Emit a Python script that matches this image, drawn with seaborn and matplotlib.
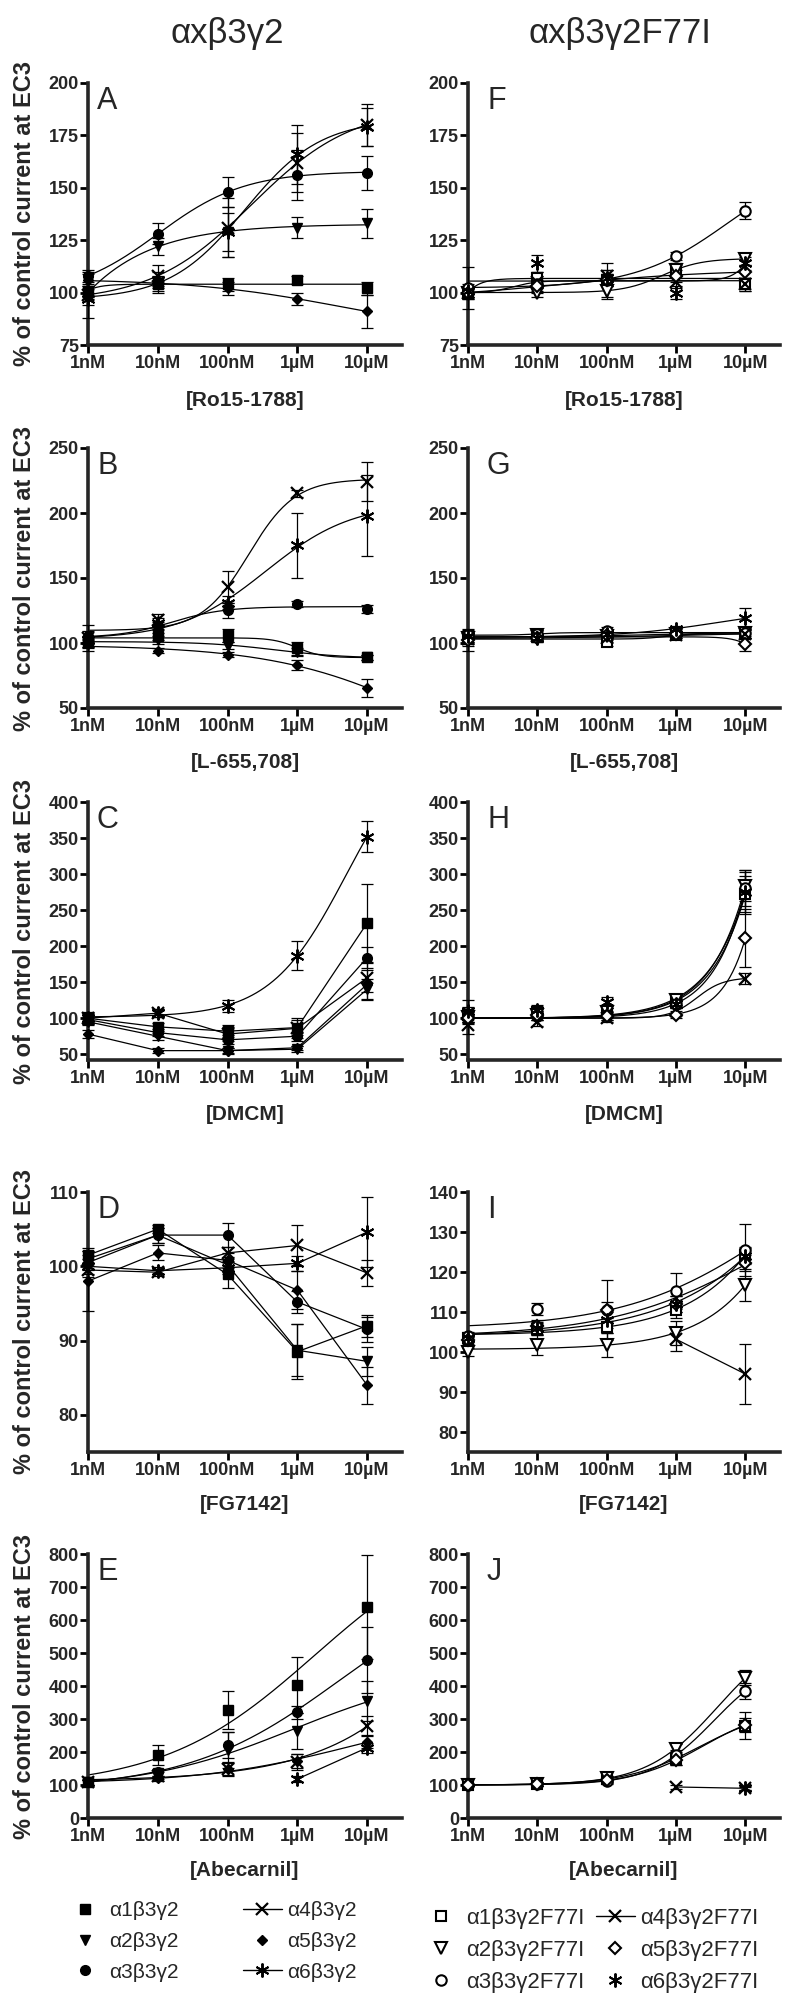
import numpy as np
import pandas as pd
import seaborn as sns
import matplotlib
matplotlib.use("Agg")
import matplotlib.pyplot as plt
from matplotlib.lines import Line2D

nan = np.nan

# ---------------- data ----------------
conc_labels = ["1nM", "10nM", "100nM", "1µM", "10µM"]
log_conc = [-9, -8, -7, -6, -5]

wt_names = ["α1β3γ2", "α2β3γ2", "α3β3γ2", "α4β3γ2", "α5β3γ2", "α6β3γ2"]
mut_names = ["α1β3γ2F77I", "α2β3γ2F77I", "α3β3γ2F77I", "α4β3γ2F77I", "α5β3γ2F77I", "α6β3γ2F77I"]
drugs = ["[Ro15-1788]", "[L-655,708]", "[DMCM]", "[FG7142]", "[Abecarnil]"]

# Ro15-1788, wild type (A)
A_mean = [[101, 104, 104, 106, 102],
          [100, 122, 129, 131, 133],
          [108, 128, 148, 156, 157],
          [99, 108, 131, 162, 180],
          [106, 104, 102, 97, 91],
          [97, 106, 129, 166, 179]]
A_err = [[3, 4, 3, 2, 3],
         [3, 4, 9, 5, 7],
         [3, 5, 7, 12, 8],
         [11, 5, 14, 14, 10],
         [3, 3, 3, 3, 8],
         [3, 4, 12, 14, 9]]
# Ro15-1788, F77I (F)
F_mean = [[100, 107, 106, 110, 104],
          [100, 100, 101, 111, 116],
          [102, 104, 106, 117.5, 139],
          [100, 105, 108, 105, 104],
          [100, 103, 106, 108, 110],
          [101, 114, 107, 100, 114]]
F_err = [[2, 3, 3, 3, 3],
         [3, 2, 4, 3, 3],
         [10, 3, 8, 2, 4],
         [3, 3, 3, 3, 3],
         [2, 3, 3, 3, 3],
         [3, 4, 4, 3, 3]]
# L-655,708, wild type (B)
B_mean = [[101, 105, 106, 96, 89],
          [100, 102, 98, 93, 89],
          [105, 113, 125, 130, 126],
          [104, 118, 143, 215, 224],
          [99, 94, 91, 83, 65.5],
          [102, 115, 131, 175, 198]]
B_err = [[4, 3, 5, 5, 2],
         [3, 3, 3, 3, 2],
         [4, 3, 6, 2, 3],
         [10, 4, 12, 3, 15],
         [3, 2, 2, 4, 7],
         [3, 4, 5, 25, 31]]
# L-655,708, F77I (G)
G_mean = [[103, 105, 101, 106, 107],
          [104, 106, 105, 107, 108],
          [106, 107, 109, 107, 108],
          [103, 105, 104, 106, 107],
          [102, 104, 106, 107, 99],
          [105, 104, 107, 111, 119]]
G_err = [[5, 3, 3, 2, 3],
         [4, 3, 3, 2, 3],
         [5, 3, 3, 2, 4],
         [4, 3, 3, 2, 3],
         [8, 3, 3, 2, 5],
         [4, 3, 3, 2, 8]]
# DMCM, wild type (C)
C_mean = [[100, 88, 82, 87, 232],
          [95, 75, 55, 57, 140],
          [98, 80, 70, 75, 184],
          [100, 107, 78, 86, 156],
          [78, 55, 55, 59, 147],
          [100, 107, 117, 187, 352]]
C_err = [[8, 6, 8, 10, 54],
         [5, 5, 4, 4, 15],
         [6, 5, 6, 6, 15],
         [6, 6, 10, 14, 20],
         [5, 3, 3, 3, 20],
         [7, 6, 8, 20, 22]]
# DMCM, F77I (H)
H_mean = [[105, 108, 108, 122, 272],
          [102, 104, 108, 125, 283],
          [103, 103, 104, 120, 280],
          [90, 95, 100, 110, 155],
          [100, 104, 103, 105, 211],
          [110, 112, 122, 120, 275]]
H_err = [[10, 6, 6, 6, 25],
         [8, 6, 6, 6, 20],
         [8, 6, 6, 6, 25],
         [12, 6, 5, 5, 8],
         [8, 6, 5, 5, 40],
         [15, 6, 8, 6, 30]]
# FG7142, wild type (D)
D_mean = [[101.5, 105, 98.9, 88.5, 92],
          [100.5, 104.2, 100.2, 88.7, 87.2],
          [101, 104.2, 104.2, 95.2, 91.5],
          [99.5, 99.2, 101.8, 102.8, 99.1],
          [98, 101.8, 100.8, 96.8, 84],
          [100, 99.4, 99.8, 100.4, 104.6]]
D_err = [[1, 0.5, 1.8, 3.7, 1.5],
         [1, 1, 1, 3.5, 2],
         [1, 1, 1.6, 1.5, 1.7],
         [1, 0.5, 0.8, 2.7, 1.8],
         [4, 1, 1, 2.5, 2.5],
         [1, 0.5, 0.8, 1, 4.7]]
# FG7142, F77I (I)
I_mean = [[103.6, 105.8, 106.2, 110.6, 124.3],
          [100.0, 101.7, 101.7, 104.8, 116.8],
          [104, 110.8, 110.4, 115.2, 125.5],
          [nan, nan, nan, 103.2, 94.5],
          [103, 106.5, 110.6, 111.9, 122.2],
          [103.5, 106, 108, 112, 124]]
I_err = [[1, 1.5, 1.5, 2, 2],
         [1, 2.5, 3, 3, 4],
         [1, 1.5, 7.5, 4.5, 6.5],
         [0, 0, 0, 3, 7.5],
         [1, 1.5, 2, 2, 2],
         [1, 1.5, 2, 2, 2]]
# Abecarnil, wild type (E)
E_mean = [[108, 191, 328, 404, 640],
          [108, 137, 206, 264, 355],
          [108, 138, 221, 320, 478],
          [108, 128, 150, 170, 280],
          [108, 120, 148, 173, 231],
          [nan, nan, nan, 118, 213]]
E_err = [[10, 30, 57, 85, 158],
         [8, 12, 55, 55, 60],
         [8, 10, 40, 20, 100],
         [8, 10, 20, 25, 30],
         [8, 8, 20, 20, 20],
         [0, 0, 0, 10, 15]]
# Abecarnil, F77I (J)
J_mean = [[100, 102, 118, 180, 280],
          [100, 102, 120, 210, 425],
          [100, 103, 112, 190, 385],
          [nan, nan, nan, 94, 90],
          [100, 103, 115, 175, 282],
          [nan, nan, nan, nan, 91]]
J_err = [[3, 5, 8, 20, 42],
         [3, 5, 8, 15, 22],
         [3, 5, 8, 15, 25],
         [0, 0, 0, 5, 5],
         [3, 5, 8, 15, 20],
         [0, 0, 0, 0, 5]]

# ---------------- style ----------------
sns.set_style("ticks")
plt.rcParams["font.family"] = ["Liberation Sans", "DejaVu Sans"]

W, H = 800, 2010
fig = plt.figure(figsize=(W / 100, H / 100), dpi=100)


def rect(x0, x1, yt, yb):
    return [x0 / W, 1 - yb / H, (x1 - x0) / W, (yb - yt) / H]


def hill_fit(x, y, bottom=None):
    m = np.isfinite(y)
    x = np.asarray(x, float)[m]
    y = np.asarray(y, float)[m]
    cs = np.arange(-12, -1.99, 0.05)
    ns = np.arange(0.4, 2.51, 0.05)
    Cg, Ng = np.meshgrid(cs, ns, indexing="ij")
    Fm = 1.0 / (1.0 + 10 ** ((Cg[..., None] - x) * Ng[..., None]))
    if bottom is None:
        fm = Fm.mean(-1)
        ym = y.mean()
        df = Fm - fm[..., None]
        dy = y - ym
        var = (df ** 2).sum(-1)
        b = (df * dy).sum(-1) / np.maximum(var, 1e-12)
        a = ym - b * fm
    else:
        dy = y - bottom
        b = (Fm * dy).sum(-1) / np.maximum((Fm ** 2).sum(-1), 1e-12)
        a = np.full_like(b, bottom)
    res = ((a[..., None] + b[..., None] * Fm - y) ** 2).sum(-1)
    i = np.unravel_index(np.argmin(res), res.shape)
    return cs[i[0]], ns[i[1]], a[i], b[i]


wt_styles = [dict(marker="s", ms=6.5), dict(marker="v", ms=7.5), dict(marker="o", ms=7),
             dict(marker="x", ms=9, mew=1.6), dict(marker="D", ms=5), dict(marker=(6, 2, 0), ms=10, mew=1.4)]
mut_styles = [dict(marker="s", ms=7, mfc="white", mew=1.5), dict(marker="v", ms=8, mfc="white", mew=1.5),
              dict(marker="o", ms=7.5, mfc="white", mew=1.5), dict(marker="x", ms=9, mew=1.6),
              dict(marker="D", ms=6, mfc="white", mew=1.5), dict(marker=(6, 2, 0), ms=10, mew=1.4)]

LEFT = (88, 402)
RIGHT = (468, 780)
rows = [(83, 345), (448, 708), (802, 1060), (1192, 1452), (1554, 1818)]
xlabel_y = [400, 762, 1115, 1505, 1870]

panels = [
    # letter, means, errs, ylim, yticks, connected series, fixed bottom, column, row
    ("A", A_mean, A_err, (75, 200), [75, 100, 125, 150, 175, 200], set(), None, 0, 0),
    ("F", F_mean, F_err, (75, 200), [75, 100, 125, 150, 175, 200], set(), None, 1, 0),
    ("B", B_mean, B_err, (50, 250), [50, 100, 150, 200, 250], set(), None, 0, 1),
    ("G", G_mean, G_err, (50, 250), [50, 100, 150, 200, 250], set(), None, 1, 1),
    ("C", C_mean, C_err, (42, 400), [50, 100, 150, 200, 250, 300, 350, 400], {0, 1, 2, 3, 4}, None, 0, 2),
    ("H", H_mean, H_err, (42, 400), [50, 100, 150, 200, 250, 300, 350, 400], set(), 100, 1, 2),
    ("D", D_mean, D_err, (75, 110), [80, 90, 100, 110], {0, 1, 2, 3, 4, 5}, None, 0, 3),
    ("I", I_mean, I_err, (75, 140), [80, 90, 100, 110, 120, 130, 140], {3}, None, 1, 3),
    ("E", E_mean, E_err, (0, 800), list(range(0, 801, 100)), {5}, None, 0, 4),
    ("J", J_mean, J_err, (0, 800), list(range(0, 801, 100)), {3}, 100, 1, 4),
]

xfit = np.linspace(-9, -5, 200)

for letter, means, errs, ylim, yticks, connect, bottom, col, row in panels:
    x0, x1 = LEFT if col == 0 else RIGHT
    yt, yb = rows[row]
    ax = fig.add_axes(rect(x0, x1, yt, yb))
    styles = wt_styles if col == 0 else mut_styles
    for k in range(6):
        y = np.asarray(means[k], float)
        e = np.asarray(errs[k], float)
        xs = np.asarray(log_conc, float)
        good = np.isfinite(y)
        if good.sum() >= 2:
            if k in connect:
                sns.lineplot(x=xs[good], y=y[good], ax=ax, color="black", linewidth=0.9,
                             estimator=None, sort=False, zorder=2)
            else:
                c, n, a, b = hill_fit(xs, y, bottom)
                yf = a + b / (1 + 10 ** ((c - xfit) * n))
                sns.lineplot(x=xfit, y=yf, ax=ax, color="black", linewidth=0.9,
                             estimator=None, sort=False, zorder=2)
        em = good & (e > 0)
        if em.any():
            eb = ax.errorbar(xs[em], y[em], yerr=e[em], fmt="none", ecolor="black",
                             elinewidth=0.9, capsize=4, capthick=0.9, zorder=3)
            for ch in eb.get_children():
                ch.set_clip_on(False)
        st = dict(styles[k])
        st.setdefault("mfc", "black")
        ax.plot(xs[good], y[good], ls="none", color="black", mec="black",
                clip_on=False, zorder=4, **st)

    ax.set_xlim(-9, -4.5)
    ax.set_ylim(*ylim)
    ax.set_xticks(log_conc)
    ax.set_xticklabels(conc_labels, fontweight="bold", fontsize=13)
    ax.set_yticks(yticks)
    ax.set_yticklabels([str(v) for v in yticks], fontweight="bold", fontsize=13)
    ax.set_xlabel("")
    ax.set_ylabel("")
    sns.despine(ax=ax)
    for sp in ("left", "bottom"):
        ax.spines[sp].set_linewidth(2.6)
    ax.tick_params(axis="both", length=5.5, width=2, color="black")
    ax.tick_params(axis="y", pad=1)
    ax.tick_params(axis="x", pad=2)
    ax.set_facecolor("none")

    off = 9 if col == 0 else 19
    fig.text((x0 + off) / W, 1 - (yt + 3) / H, letter, fontsize=22, ha="left", va="top")
    fig.text(((x0 + x1) / 2) / W, 1 - xlabel_y[row] / H, drugs[row], fontsize=15,
             fontweight="bold", ha="center", va="center")
    if col == 0:
        fig.text(25 / W, 1 - ((yt + yb) / 2) / H, "% of control current at EC3", rotation=90,
                 fontsize=17, fontweight="bold", ha="center", va="center")

fig.text(227 / W, 1 - 33 / H, "αxβ3γ2", fontsize=25, ha="center", va="center")
fig.text(620 / W, 1 - 33 / H, "αxβ3γ2F77I", fontsize=25, ha="center", va="center")

# legends
wt_handles = []
for k, st in enumerate(wt_styles):
    s = dict(st)
    s.setdefault("mfc", "black")
    ls = "-" if k in (3, 5) else "none"
    wt_handles.append(Line2D([], [], color="black", lw=1, ls=ls, mec="black", **s))
mut_handles = []
for k, st in enumerate(mut_styles):
    s = dict(st)
    s.setdefault("mfc", "black")
    ls = "-" if k == 3 else "none"
    mut_handles.append(Line2D([], [], color="black", lw=1, ls=ls, mec="black", **s))

fig.legend(wt_handles, wt_names, loc="upper left", bbox_to_anchor=(66 / W, 1 - 1901 / H),
           ncol=2, frameon=False, fontsize=15, handlelength=1.83, handletextpad=0.25,
           columnspacing=3.1, labelspacing=0.57, borderpad=0, borderaxespad=0)
fig.legend(mut_handles, mut_names, loc="upper left", bbox_to_anchor=(422 / W, 1 - 1908 / H),
           ncol=2, frameon=False, fontsize=16, handlelength=1.75, handletextpad=0.25,
           columnspacing=0.5, labelspacing=0.5, borderpad=0, borderaxespad=0)

fig.savefig("out.png", dpi=100)
